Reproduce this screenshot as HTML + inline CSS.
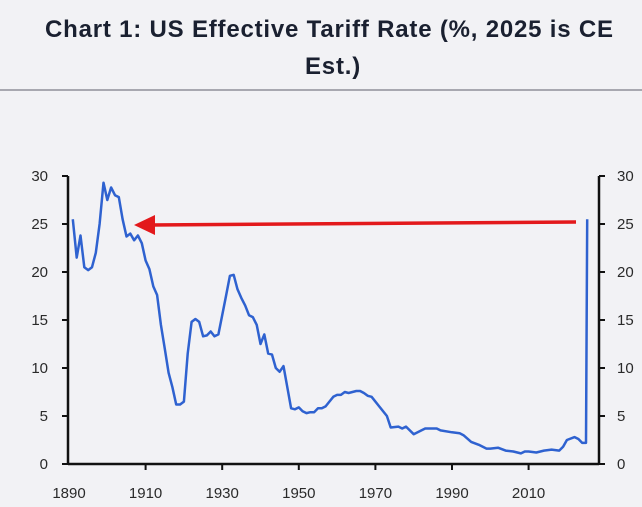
<!DOCTYPE html>
<html><head><meta charset="utf-8"><style>
html,body{margin:0;padding:0;background:#f2f2f5;width:642px;height:507px;overflow:hidden}
.t{position:absolute;white-space:nowrap;font-family:"Liberation Sans",sans-serif;font-weight:bold;font-size:24px;color:#1a2030;letter-spacing:0.8px}
</style></head><body>
<div class="t" style="top:16px;left:45px">Chart 1: US Effective Tariff Rate (%, 2025 is CE</div>
<div class="t" style="top:53px;left:305px">Est.)</div>
<div style="position:absolute;left:0;top:89px;width:642px;height:2px;background:#a8a8b0"></div>
<svg width="642" height="507" style="position:absolute;left:0;top:0" font-family="Liberation Sans, sans-serif" font-size="15" fill="#2a2a2a">
<g stroke="#111" stroke-width="2.5" fill="none">
<line x1="68" y1="176" x2="68" y2="465"/>
<line x1="599" y1="176" x2="599" y2="465"/>
<line x1="68" y1="464" x2="599" y2="464"/>
</g>
<g id="ticks" stroke="#111" stroke-width="2"></g>
<g id="labels"></g>
<polyline id="ser" fill="none" stroke="#2f62d0" stroke-width="2.5" stroke-linejoin="round"/>
<line x1="576" y1="222" x2="150" y2="225" stroke="#e3191c" stroke-width="3.5"/>
<polygon points="134,225 155,215 155,235" fill="#e3191c"/>
</svg>
<script>
var X=function(y){return 69+(y-1890)*3.83},Y=function(v){return 464-v*9.6};
var d=[[1891,25.5],[1892,21.5],[1893,23.8],[1894,20.5],[1895,20.2],[1896,20.5],[1897,22],[1898,25],[1899,29.3],[1900,27.5],[1901,28.8],[1902,28],[1903,27.8],[1904,25.5],[1905,23.7],[1906,24],[1907,23.3],[1908,23.8],[1909,23],[1910,21.2],[1911,20.3],[1912,18.5],[1913,17.6],[1914,14.5],[1915,12],[1916,9.5],[1917,8],[1918,6.2],[1919,6.2],[1920,6.5],[1921,11.5],[1922,14.8],[1923,15.1],[1924,14.8],[1925,13.3],[1926,13.4],[1927,13.8],[1928,13.3],[1929,13.5],[1930,15.5],[1931,17.5],[1932,19.6],[1933,19.7],[1934,18.2],[1935,17.3],[1936,16.5],[1937,15.5],[1938,15.3],[1939,14.5],[1940,12.5],[1941,13.5],[1942,11.5],[1943,11.4],[1944,10],[1945,9.6],[1946,10.2],[1947,8],[1948,5.8],[1949,5.7],[1950,5.9],[1951,5.5],[1952,5.3],[1953,5.4],[1954,5.4],[1955,5.8],[1956,5.8],[1957,6],[1958,6.5],[1959,7],[1960,7.2],[1961,7.2],[1962,7.5],[1963,7.4],[1965,7.6],[1966,7.6],[1967,7.4],[1968,7.1],[1969,7.0],[1971,6.0],[1973,5.0],[1974,3.8],[1976,3.9],[1977,3.7],[1978,3.9],[1980,3.1],[1982,3.5],[1983,3.7],[1986,3.7],[1987,3.5],[1990,3.3],[1992,3.2],[1993,3.0],[1995,2.3],[1997,2.0],[1999,1.6],[2000,1.6],[2002,1.7],[2004,1.4],[2006,1.3],[2008,1.1],[2009,1.3],[2010,1.3],[2012,1.2],[2014,1.4],[2016,1.5],[2018,1.4],[2019,1.8],[2020,2.5],[2022,2.8],[2023,2.6],[2024,2.2],[2025,2.2],[2025.3,25.5]];
document.getElementById('ser').setAttribute('points',d.map(function(p){return X(p[0]).toFixed(1)+','+Y(p[1]).toFixed(1)}).join(' '));
var t='',l='';
for(var v=0;v<=30;v+=5){var y=Y(v);t+='<line x1="62" y1="'+y+'" x2="68" y2="'+y+'"/><line x1="599" y1="'+y+'" x2="605" y2="'+y+'"/>';
l+='<text x="48" y="'+(y+5)+'" text-anchor="end">'+v+'</text><text x="617" y="'+(y+5)+'">'+v+'</text>';}
for(var yr=1910;yr<=2010;yr+=20){var x=X(yr);t+='<line x1="'+x+'" y1="464" x2="'+x+'" y2="470"/>';}
for(var yr=1890;yr<=2010;yr+=20){l+='<text x="'+X(yr)+'" y="498" text-anchor="middle">'+yr+'</text>';}
document.getElementById('ticks').innerHTML=t;document.getElementById('labels').innerHTML=l;
</script>
</body></html>
